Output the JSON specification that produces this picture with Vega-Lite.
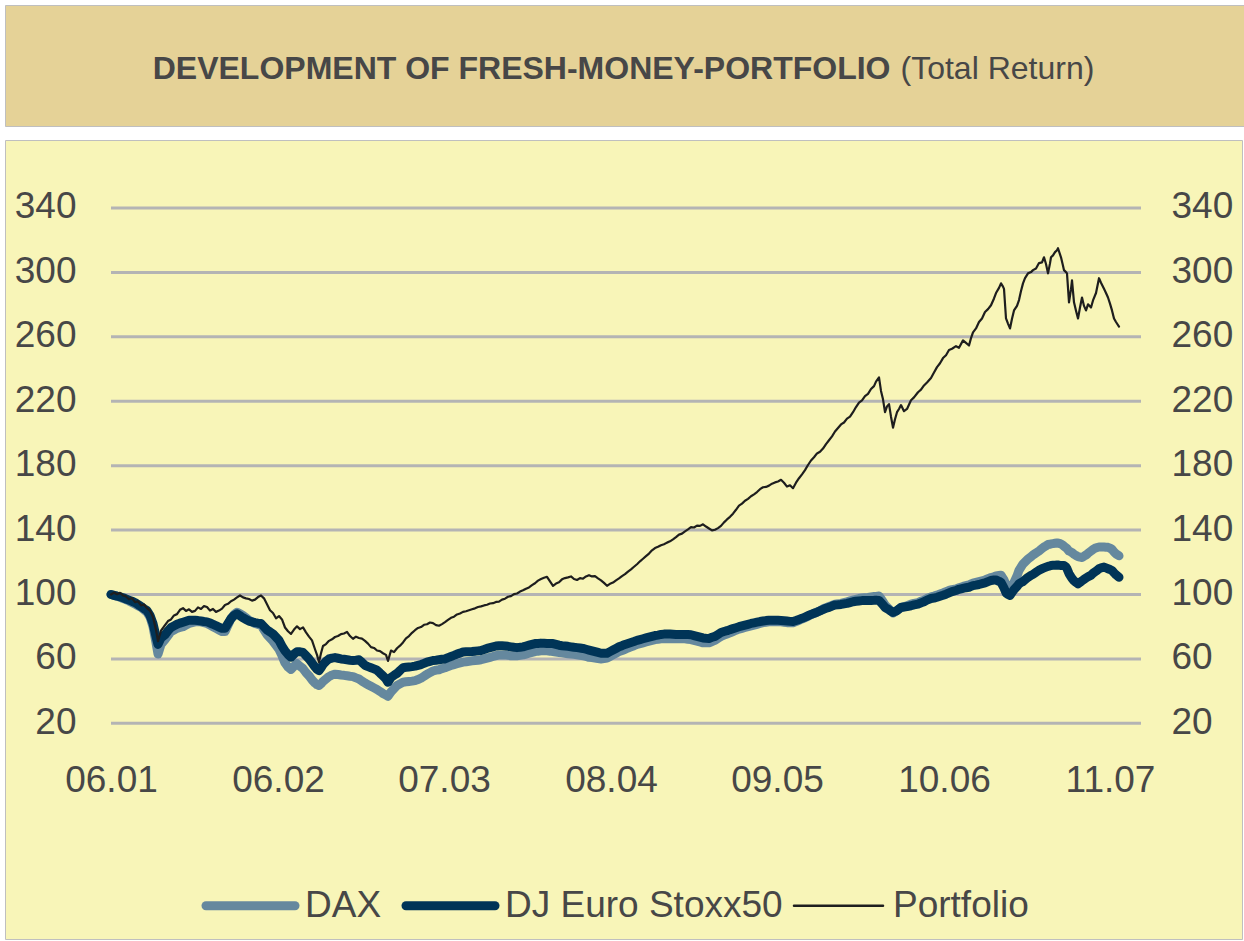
{
  "$schema": "https://vega.github.io/schema/vega-lite/v6.json",
  "background": "white",
  "padding": {"left": 4, "top": 4, "right": 0, "bottom": 0},
  "spacing": 12,
  "config": {"font": "Liberation Sans", "view": {"stroke": "#BFBFBF", "strokeWidth": 1}},
  "vconcat": [
    {
      "width": 1239,
      "height": 121,
      "view": {"fill": "#E5D297", "stroke": "#BFBFBF"},
      "data": {"values": [{"k": "t", "bold": "DEVELOPMENT OF FRESH-MONEY-PORTFOLIO", "normal": "(Total Return)"}]},
      "encoding": {
        "x": {"field": "k", "type": "nominal", "axis": null},
        "y": {"field": "k", "type": "nominal", "axis": null}
      },
      "layer": [
        {"mark": {"type": "text", "fontSize": 32, "fontWeight": "bold", "align": "right", "baseline": "middle", "dx": 266, "dy": 3, "fill": "#474747"},
         "encoding": {"text": {"field": "bold"}}},
        {"mark": {"type": "text", "fontSize": 32, "fontWeight": "normal", "align": "left", "baseline": "middle", "dx": 276, "dy": 3, "fill": "#474747"},
         "encoding": {"text": {"field": "normal"}}}
      ]
    },
    {
      "width": 1237,
      "height": 799,
      "view": {"fill": "#F8F5B8", "stroke": "#BFBFBF"},
      "resolve": {"scale": {"y": "independent"}},
      "layer": [
        {
          "data": {"values": [{"g": 20}, {"g": 60}, {"g": 100}, {"g": 140}, {"g": 180}, {"g": 220}, {"g": 260}, {"g": 300}, {"g": 340}]},
          "mark": {"type": "rule", "stroke": "#B4B4B4", "strokeWidth": 3},
          "encoding": {
            "x": {"datum": 0, "type": "quantitative", "scale": {"domain": [-106, 1131], "nice": false, "zero": false}},
            "x2": {"datum": 1030},
            "y": {"field": "g", "type": "quantitative",
                  "scale": {"domain": [-113.93, 382.22], "nice": false, "zero": false},
                  "axis": {"orient": "right", "values": [20, 60, 100, 140, 180, 220, 260, 300, 340], "offset": -71, "labelPadding": 0, "labelAlign": "left", "labelOffset": -1, "domain": false, "ticks": false, "grid": false, "title": null, "labelFontSize": 37, "labelColor": "#474747", "labelFont": "Liberation Sans"}}
          }
        },
        {
          "data": {"values": [
{"d":0,"DAX":100,"DJ Euro Stoxx50":100,"Portfolio":100},
{"d":3,"DAX":99.5,"DJ Euro Stoxx50":99.5,"Portfolio":101.2},
{"d":6,"DAX":99,"DJ Euro Stoxx50":99,"Portfolio":100.2},
{"d":9,"DAX":98.3,"DJ Euro Stoxx50":98.6,"Portfolio":101},
{"d":12,"DAX":97.5,"DJ Euro Stoxx50":98,"Portfolio":99.4},
{"d":15,"DAX":96.8,"DJ Euro Stoxx50":97.2,"Portfolio":98.8},
{"d":18,"DAX":96,"DJ Euro Stoxx50":96.5,"Portfolio":97},
{"d":21,"DAX":95,"DJ Euro Stoxx50":95.8,"Portfolio":97.8},
{"d":24,"DAX":94,"DJ Euro Stoxx50":95,"Portfolio":95.2},
{"d":27,"DAX":93,"DJ Euro Stoxx50":93.8,"Portfolio":95.8},
{"d":30,"DAX":92,"DJ Euro Stoxx50":92.5,"Portfolio":93.2},
{"d":33,"DAX":90.5,"DJ Euro Stoxx50":91.2,"Portfolio":93.8},
{"d":36,"DAX":89,"DJ Euro Stoxx50":90,"Portfolio":91.5},
{"d":39,"DAX":86,"DJ Euro Stoxx50":87,"Portfolio":90},
{"d":42,"DAX":80,"DJ Euro Stoxx50":82,"Portfolio":86},
{"d":45,"DAX":70,"DJ Euro Stoxx50":74,"Portfolio":78},
{"d":47,"DAX":63,"DJ Euro Stoxx50":69,"Portfolio":71},
{"d":50,"DAX":69,"DJ Euro Stoxx50":73,"Portfolio":77.5},
{"d":54,"DAX":72,"DJ Euro Stoxx50":75,"Portfolio":81},
{"d":57,"DAX":74.5,"DJ Euro Stoxx50":77.5,"Portfolio":83.5},
{"d":60,"DAX":77,"DJ Euro Stoxx50":79.5,"Portfolio":84.5},
{"d":63,"DAX":78,"DJ Euro Stoxx50":80.5,"Portfolio":87},
{"d":66,"DAX":79,"DJ Euro Stoxx50":81.5,"Portfolio":87.8},
{"d":69,"DAX":79.5,"DJ Euro Stoxx50":82.2,"Portfolio":90.5},
{"d":72,"DAX":80,"DJ Euro Stoxx50":82.8,"Portfolio":91.5},
{"d":75,"DAX":81,"DJ Euro Stoxx50":83.4,"Portfolio":89.8},
{"d":78,"DAX":82,"DJ Euro Stoxx50":84,"Portfolio":90.8},
{"d":81,"DAX":82.5,"DJ Euro Stoxx50":84,"Portfolio":89.2},
{"d":84,"DAX":83,"DJ Euro Stoxx50":84,"Portfolio":89.8},
{"d":87,"DAX":83,"DJ Euro Stoxx50":83.8,"Portfolio":92},
{"d":90,"DAX":83,"DJ Euro Stoxx50":83.5,"Portfolio":91},
{"d":93,"DAX":82.5,"DJ Euro Stoxx50":83.2,"Portfolio":92.8},
{"d":96,"DAX":82,"DJ Euro Stoxx50":83,"Portfolio":92.2},
{"d":99,"DAX":81,"DJ Euro Stoxx50":82.3,"Portfolio":90},
{"d":102,"DAX":80,"DJ Euro Stoxx50":81.5,"Portfolio":91},
{"d":105,"DAX":79,"DJ Euro Stoxx50":80.6,"Portfolio":89.2},
{"d":108,"DAX":78,"DJ Euro Stoxx50":79.8,"Portfolio":90},
{"d":111,"DAX":77,"DJ Euro Stoxx50":79,"Portfolio":91.2},
{"d":114,"DAX":77,"DJ Euro Stoxx50":79,"Portfolio":93.5},
{"d":117,"DAX":81,"DJ Euro Stoxx50":82,"Portfolio":94.2},
{"d":120,"DAX":85,"DJ Euro Stoxx50":85,"Portfolio":95.8},
{"d":123,"DAX":87.5,"DJ Euro Stoxx50":87,"Portfolio":96.8},
{"d":126,"DAX":89,"DJ Euro Stoxx50":88,"Portfolio":98.2},
{"d":129,"DAX":88,"DJ Euro Stoxx50":86.8,"Portfolio":99.4},
{"d":132,"DAX":87,"DJ Euro Stoxx50":85.5,"Portfolio":98.2},
{"d":135,"DAX":85.5,"DJ Euro Stoxx50":84.5,"Portfolio":97.6},
{"d":138,"DAX":84,"DJ Euro Stoxx50":83.5,"Portfolio":97.2},
{"d":141,"DAX":83,"DJ Euro Stoxx50":83,"Portfolio":96.2},
{"d":144,"DAX":82,"DJ Euro Stoxx50":82.5,"Portfolio":96.8},
{"d":147,"DAX":81.5,"DJ Euro Stoxx50":82.2,"Portfolio":98.4},
{"d":150,"DAX":81,"DJ Euro Stoxx50":82,"Portfolio":99.4},
{"d":153,"DAX":78,"DJ Euro Stoxx50":80,"Portfolio":97.6},
{"d":156,"DAX":75,"DJ Euro Stoxx50":78,"Portfolio":94},
{"d":159,"DAX":73,"DJ Euro Stoxx50":76.8,"Portfolio":90.2},
{"d":162,"DAX":71,"DJ Euro Stoxx50":75.5,"Portfolio":88.5},
{"d":165,"DAX":68.5,"DJ Euro Stoxx50":73.5,"Portfolio":85.2},
{"d":168,"DAX":66,"DJ Euro Stoxx50":71.5,"Portfolio":86.6},
{"d":171,"DAX":62,"DJ Euro Stoxx50":68,"Portfolio":84.5},
{"d":174,"DAX":57.5,"DJ Euro Stoxx50":65,"Portfolio":79.5},
{"d":177,"DAX":55,"DJ Euro Stoxx50":62.8,"Portfolio":77.2},
{"d":180,"DAX":53.5,"DJ Euro Stoxx50":61,"Portfolio":75.5},
{"d":183,"DAX":55.5,"DJ Euro Stoxx50":63,"Portfolio":78.2},
{"d":186,"DAX":57,"DJ Euro Stoxx50":64.5,"Portfolio":80.2},
{"d":189,"DAX":55.5,"DJ Euro Stoxx50":64.4,"Portfolio":78.5},
{"d":192,"DAX":54,"DJ Euro Stoxx50":64,"Portfolio":79.6},
{"d":195,"DAX":51.5,"DJ Euro Stoxx50":62,"Portfolio":76.5},
{"d":198,"DAX":49.5,"DJ Euro Stoxx50":60,"Portfolio":73.8},
{"d":201,"DAX":47,"DJ Euro Stoxx50":57.5,"Portfolio":71.5},
{"d":204,"DAX":45,"DJ Euro Stoxx50":55,"Portfolio":66},
{"d":206,"DAX":44,"DJ Euro Stoxx50":53.5,"Portfolio":62.5},
{"d":208,"DAX":43.5,"DJ Euro Stoxx50":52.8,"Portfolio":58},
{"d":210,"DAX":44.5,"DJ Euro Stoxx50":54.5,"Portfolio":63.5},
{"d":212,"DAX":46,"DJ Euro Stoxx50":56.5,"Portfolio":68},
{"d":215,"DAX":47.5,"DJ Euro Stoxx50":58.5,"Portfolio":69.2},
{"d":218,"DAX":49,"DJ Euro Stoxx50":60,"Portfolio":71.2},
{"d":221,"DAX":50,"DJ Euro Stoxx50":60.5,"Portfolio":72.2},
{"d":224,"DAX":50.5,"DJ Euro Stoxx50":60.8,"Portfolio":73.6},
{"d":227,"DAX":50.3,"DJ Euro Stoxx50":60.4,"Portfolio":74.2},
{"d":230,"DAX":50,"DJ Euro Stoxx50":60,"Portfolio":75.4},
{"d":233,"DAX":49.8,"DJ Euro Stoxx50":59.8,"Portfolio":75.8},
{"d":236,"DAX":49.5,"DJ Euro Stoxx50":59.5,"Portfolio":76.8},
{"d":239,"DAX":49.2,"DJ Euro Stoxx50":59.2,"Portfolio":74.2},
{"d":242,"DAX":49,"DJ Euro Stoxx50":59,"Portfolio":72.5},
{"d":245,"DAX":48.2,"DJ Euro Stoxx50":59.2,"Portfolio":73.8},
{"d":248,"DAX":47.5,"DJ Euro Stoxx50":59.5,"Portfolio":73},
{"d":251,"DAX":46.2,"DJ Euro Stoxx50":57.8,"Portfolio":72.6},
{"d":254,"DAX":45,"DJ Euro Stoxx50":56,"Portfolio":71.2},
{"d":257,"DAX":44,"DJ Euro Stoxx50":55.2,"Portfolio":69.5},
{"d":260,"DAX":43,"DJ Euro Stoxx50":54.5,"Portfolio":67.3},
{"d":263,"DAX":42,"DJ Euro Stoxx50":53.8,"Portfolio":66.8},
{"d":266,"DAX":41,"DJ Euro Stoxx50":53,"Portfolio":65.2},
{"d":269,"DAX":39.8,"DJ Euro Stoxx50":51.2,"Portfolio":64.8},
{"d":272,"DAX":38.5,"DJ Euro Stoxx50":49.5,"Portfolio":63.5},
{"d":275,"DAX":37.5,"DJ Euro Stoxx50":47.5,"Portfolio":62.5},
{"d":277,"DAX":36.8,"DJ Euro Stoxx50":45.5,"Portfolio":58.8},
{"d":280,"DAX":39.5,"DJ Euro Stoxx50":48.5,"Portfolio":65.2},
{"d":283,"DAX":41.5,"DJ Euro Stoxx50":49.8,"Portfolio":64.2},
{"d":286,"DAX":43.5,"DJ Euro Stoxx50":51,"Portfolio":66.6},
{"d":289,"DAX":44.5,"DJ Euro Stoxx50":52.8,"Portfolio":68.2},
{"d":292,"DAX":45.5,"DJ Euro Stoxx50":54.5,"Portfolio":70.2},
{"d":295,"DAX":45.8,"DJ Euro Stoxx50":54.8,"Portfolio":72.8},
{"d":298,"DAX":46,"DJ Euro Stoxx50":55,"Portfolio":74.2},
{"d":301,"DAX":46.2,"DJ Euro Stoxx50":55.2,"Portfolio":76.2},
{"d":304,"DAX":46.5,"DJ Euro Stoxx50":55.5,"Portfolio":77.8},
{"d":307,"DAX":47.2,"DJ Euro Stoxx50":56,"Portfolio":79.2},
{"d":310,"DAX":48,"DJ Euro Stoxx50":56.5,"Portfolio":79.8},
{"d":313,"DAX":49.2,"DJ Euro Stoxx50":57.2,"Portfolio":81.2},
{"d":316,"DAX":50.5,"DJ Euro Stoxx50":58,"Portfolio":81.5},
{"d":319,"DAX":51.5,"DJ Euro Stoxx50":58.5,"Portfolio":82.6},
{"d":322,"DAX":52.5,"DJ Euro Stoxx50":59,"Portfolio":82.2},
{"d":325,"DAX":53,"DJ Euro Stoxx50":59.2,"Portfolio":81},
{"d":328,"DAX":53.3,"DJ Euro Stoxx50":59.5,"Portfolio":80.6},
{"d":331,"DAX":54,"DJ Euro Stoxx50":59.8,"Portfolio":81.6},
{"d":334,"DAX":54.5,"DJ Euro Stoxx50":60,"Portfolio":82.8},
{"d":337,"DAX":55.2,"DJ Euro Stoxx50":60.8,"Portfolio":84.2},
{"d":340,"DAX":56,"DJ Euro Stoxx50":61.5,"Portfolio":85.5},
{"d":343,"DAX":56.5,"DJ Euro Stoxx50":62.2,"Portfolio":86.2},
{"d":346,"DAX":57,"DJ Euro Stoxx50":63,"Portfolio":87.6},
{"d":349,"DAX":57.5,"DJ Euro Stoxx50":63.6,"Portfolio":88.2},
{"d":352,"DAX":58,"DJ Euro Stoxx50":64.3,"Portfolio":89.2},
{"d":355,"DAX":58.2,"DJ Euro Stoxx50":64.4,"Portfolio":89.6},
{"d":358,"DAX":58.5,"DJ Euro Stoxx50":64.5,"Portfolio":90.2},
{"d":361,"DAX":58.8,"DJ Euro Stoxx50":64.6,"Portfolio":90.8},
{"d":364,"DAX":59,"DJ Euro Stoxx50":64.8,"Portfolio":91.4},
{"d":367,"DAX":59.2,"DJ Euro Stoxx50":65,"Portfolio":92.2},
{"d":370,"DAX":59.5,"DJ Euro Stoxx50":65.2,"Portfolio":92.6},
{"d":373,"DAX":60,"DJ Euro Stoxx50":65.8,"Portfolio":93.2},
{"d":376,"DAX":60.5,"DJ Euro Stoxx50":66.5,"Portfolio":93.6},
{"d":379,"DAX":61,"DJ Euro Stoxx50":67,"Portfolio":94.4},
{"d":382,"DAX":61.5,"DJ Euro Stoxx50":67.5,"Portfolio":94.6},
{"d":385,"DAX":62,"DJ Euro Stoxx50":68,"Portfolio":95.4},
{"d":388,"DAX":62.5,"DJ Euro Stoxx50":68.2,"Portfolio":95.6},
{"d":391,"DAX":62.5,"DJ Euro Stoxx50":68.1,"Portfolio":96.8},
{"d":394,"DAX":62.5,"DJ Euro Stoxx50":68,"Portfolio":97.4},
{"d":397,"DAX":62.2,"DJ Euro Stoxx50":67.8,"Portfolio":98.6},
{"d":400,"DAX":62,"DJ Euro Stoxx50":67.5,"Portfolio":99},
{"d":403,"DAX":62,"DJ Euro Stoxx50":67.2,"Portfolio":100.2},
{"d":406,"DAX":62,"DJ Euro Stoxx50":67,"Portfolio":100.6},
{"d":409,"DAX":62.2,"DJ Euro Stoxx50":67.2,"Portfolio":101.8},
{"d":412,"DAX":62.5,"DJ Euro Stoxx50":67.5,"Portfolio":102.6},
{"d":415,"DAX":63,"DJ Euro Stoxx50":68,"Portfolio":103.6},
{"d":418,"DAX":63.5,"DJ Euro Stoxx50":68.5,"Portfolio":104.4},
{"d":421,"DAX":64,"DJ Euro Stoxx50":69,"Portfolio":105.8},
{"d":424,"DAX":64.5,"DJ Euro Stoxx50":69.5,"Portfolio":107},
{"d":427,"DAX":64.8,"DJ Euro Stoxx50":69.6,"Portfolio":108.6},
{"d":430,"DAX":65,"DJ Euro Stoxx50":69.8,"Portfolio":109.6},
{"d":433,"DAX":65,"DJ Euro Stoxx50":69.7,"Portfolio":110.4},
{"d":436,"DAX":65,"DJ Euro Stoxx50":69.6,"Portfolio":111},
{"d":439,"DAX":64.8,"DJ Euro Stoxx50":69.5,"Portfolio":108.2},
{"d":442,"DAX":64.5,"DJ Euro Stoxx50":69.5,"Portfolio":105.4},
{"d":445,"DAX":64.2,"DJ Euro Stoxx50":69,"Portfolio":106.8},
{"d":448,"DAX":64,"DJ Euro Stoxx50":68.5,"Portfolio":107.6},
{"d":451,"DAX":63.8,"DJ Euro Stoxx50":68.2,"Portfolio":109.4},
{"d":454,"DAX":63.5,"DJ Euro Stoxx50":68,"Portfolio":110.2},
{"d":457,"DAX":63.2,"DJ Euro Stoxx50":67.8,"Portfolio":110.6},
{"d":460,"DAX":63,"DJ Euro Stoxx50":67.5,"Portfolio":111.2},
{"d":463,"DAX":62.8,"DJ Euro Stoxx50":67.2,"Portfolio":109.6},
{"d":466,"DAX":62.5,"DJ Euro Stoxx50":67,"Portfolio":109},
{"d":469,"DAX":62.2,"DJ Euro Stoxx50":66.8,"Portfolio":110.2},
{"d":472,"DAX":62,"DJ Euro Stoxx50":66.5,"Portfolio":109.8},
{"d":475,"DAX":61.5,"DJ Euro Stoxx50":66,"Portfolio":111.2},
{"d":478,"DAX":61,"DJ Euro Stoxx50":65.5,"Portfolio":112},
{"d":481,"DAX":60.8,"DJ Euro Stoxx50":65,"Portfolio":111.2},
{"d":484,"DAX":60.5,"DJ Euro Stoxx50":64.5,"Portfolio":111.4},
{"d":487,"DAX":60.2,"DJ Euro Stoxx50":64,"Portfolio":110},
{"d":490,"DAX":60,"DJ Euro Stoxx50":63.5,"Portfolio":108.8},
{"d":493,"DAX":60.2,"DJ Euro Stoxx50":63.5,"Portfolio":107.2},
{"d":496,"DAX":60.5,"DJ Euro Stoxx50":63.5,"Portfolio":105.4},
{"d":499,"DAX":61.5,"DJ Euro Stoxx50":64.5,"Portfolio":106.6},
{"d":502,"DAX":62.5,"DJ Euro Stoxx50":65.5,"Portfolio":107.4},
{"d":505,"DAX":63.5,"DJ Euro Stoxx50":66.5,"Portfolio":108.8},
{"d":508,"DAX":64.5,"DJ Euro Stoxx50":67.5,"Portfolio":110},
{"d":511,"DAX":65.2,"DJ Euro Stoxx50":68.2,"Portfolio":111.4},
{"d":514,"DAX":66,"DJ Euro Stoxx50":69,"Portfolio":112.6},
{"d":517,"DAX":66.8,"DJ Euro Stoxx50":69.6,"Portfolio":114.2},
{"d":520,"DAX":67.5,"DJ Euro Stoxx50":70.2,"Portfolio":115.6},
{"d":523,"DAX":68.2,"DJ Euro Stoxx50":70.8,"Portfolio":117.2},
{"d":526,"DAX":69,"DJ Euro Stoxx50":71.5,"Portfolio":118.8},
{"d":529,"DAX":69.5,"DJ Euro Stoxx50":72,"Portfolio":120.6},
{"d":532,"DAX":70,"DJ Euro Stoxx50":72.5,"Portfolio":122.2},
{"d":535,"DAX":70.5,"DJ Euro Stoxx50":73,"Portfolio":123.8},
{"d":538,"DAX":71,"DJ Euro Stoxx50":73.5,"Portfolio":125.4},
{"d":541,"DAX":71.5,"DJ Euro Stoxx50":74,"Portfolio":127.4},
{"d":544,"DAX":72,"DJ Euro Stoxx50":74.5,"Portfolio":128.8},
{"d":547,"DAX":72.2,"DJ Euro Stoxx50":74.8,"Portfolio":129.6},
{"d":550,"DAX":72.5,"DJ Euro Stoxx50":75.2,"Portfolio":130.6},
{"d":553,"DAX":72.5,"DJ Euro Stoxx50":75.4,"Portfolio":131.2},
{"d":556,"DAX":72.5,"DJ Euro Stoxx50":75.5,"Portfolio":132.2},
{"d":559,"DAX":72.5,"DJ Euro Stoxx50":75.4,"Portfolio":133},
{"d":562,"DAX":72.5,"DJ Euro Stoxx50":75.3,"Portfolio":134.2},
{"d":565,"DAX":72.5,"DJ Euro Stoxx50":75.2,"Portfolio":135.6},
{"d":568,"DAX":72.5,"DJ Euro Stoxx50":75.2,"Portfolio":137.2},
{"d":571,"DAX":72.5,"DJ Euro Stoxx50":75.2,"Portfolio":137.8},
{"d":574,"DAX":72.5,"DJ Euro Stoxx50":75.2,"Portfolio":139.2},
{"d":577,"DAX":72.2,"DJ Euro Stoxx50":75.1,"Portfolio":140.4},
{"d":580,"DAX":72,"DJ Euro Stoxx50":75,"Portfolio":141.8},
{"d":583,"DAX":71.5,"DJ Euro Stoxx50":74.5,"Portfolio":141.6},
{"d":586,"DAX":71,"DJ Euro Stoxx50":74,"Portfolio":142.8},
{"d":589,"DAX":70.5,"DJ Euro Stoxx50":73.5,"Portfolio":142.6},
{"d":592,"DAX":70,"DJ Euro Stoxx50":73,"Portfolio":143.6},
{"d":595,"DAX":70,"DJ Euro Stoxx50":72.8,"Portfolio":142.2},
{"d":598,"DAX":70,"DJ Euro Stoxx50":72.7,"Portfolio":141},
{"d":601,"DAX":70.8,"DJ Euro Stoxx50":73.4,"Portfolio":139.8},
{"d":604,"DAX":71.5,"DJ Euro Stoxx50":74,"Portfolio":140.2},
{"d":607,"DAX":72.8,"DJ Euro Stoxx50":75.2,"Portfolio":141.2},
{"d":610,"DAX":74,"DJ Euro Stoxx50":76.4,"Portfolio":142.6},
{"d":613,"DAX":74.8,"DJ Euro Stoxx50":77,"Portfolio":144.8},
{"d":616,"DAX":75.5,"DJ Euro Stoxx50":77.5,"Portfolio":146.6},
{"d":619,"DAX":76.2,"DJ Euro Stoxx50":78.2,"Portfolio":148.2},
{"d":622,"DAX":77,"DJ Euro Stoxx50":78.8,"Portfolio":150.2},
{"d":625,"DAX":77.8,"DJ Euro Stoxx50":79.4,"Portfolio":152.6},
{"d":628,"DAX":78.5,"DJ Euro Stoxx50":80,"Portfolio":155.2},
{"d":631,"DAX":79,"DJ Euro Stoxx50":80.5,"Portfolio":156.4},
{"d":634,"DAX":79.5,"DJ Euro Stoxx50":81,"Portfolio":158.2},
{"d":637,"DAX":80,"DJ Euro Stoxx50":81.5,"Portfolio":159.4},
{"d":640,"DAX":80.5,"DJ Euro Stoxx50":82,"Portfolio":161},
{"d":643,"DAX":81,"DJ Euro Stoxx50":82.4,"Portfolio":162.2},
{"d":646,"DAX":81.5,"DJ Euro Stoxx50":82.8,"Portfolio":163.6},
{"d":649,"DAX":82,"DJ Euro Stoxx50":83.2,"Portfolio":165.4},
{"d":652,"DAX":82.5,"DJ Euro Stoxx50":83.5,"Portfolio":166.6},
{"d":655,"DAX":82.8,"DJ Euro Stoxx50":83.8,"Portfolio":166.8},
{"d":658,"DAX":83,"DJ Euro Stoxx50":84,"Portfolio":167.6},
{"d":661,"DAX":83,"DJ Euro Stoxx50":84,"Portfolio":168.8},
{"d":664,"DAX":83,"DJ Euro Stoxx50":84,"Portfolio":169.6},
{"d":667,"DAX":83,"DJ Euro Stoxx50":84,"Portfolio":170.2},
{"d":670,"DAX":83,"DJ Euro Stoxx50":83.9,"Portfolio":171.2},
{"d":673,"DAX":82.8,"DJ Euro Stoxx50":83.7,"Portfolio":169.4},
{"d":676,"DAX":82.5,"DJ Euro Stoxx50":83.5,"Portfolio":167},
{"d":679,"DAX":82.5,"DJ Euro Stoxx50":83.3,"Portfolio":167.8},
{"d":682,"DAX":82.5,"DJ Euro Stoxx50":83.2,"Portfolio":166},
{"d":685,"DAX":83.2,"DJ Euro Stoxx50":83.8,"Portfolio":169.4},
{"d":688,"DAX":84,"DJ Euro Stoxx50":84.5,"Portfolio":172.2},
{"d":691,"DAX":84.8,"DJ Euro Stoxx50":85.2,"Portfolio":174.6},
{"d":694,"DAX":85.5,"DJ Euro Stoxx50":86,"Portfolio":177.2},
{"d":697,"DAX":86.5,"DJ Euro Stoxx50":86.8,"Portfolio":180.4},
{"d":700,"DAX":87.5,"DJ Euro Stoxx50":87.6,"Portfolio":183.2},
{"d":703,"DAX":88.2,"DJ Euro Stoxx50":88.3,"Portfolio":185.2},
{"d":706,"DAX":89,"DJ Euro Stoxx50":89,"Portfolio":187.6},
{"d":709,"DAX":90,"DJ Euro Stoxx50":89.8,"Portfolio":188.6},
{"d":712,"DAX":91,"DJ Euro Stoxx50":90.7,"Portfolio":190.6},
{"d":715,"DAX":91.8,"DJ Euro Stoxx50":91.4,"Portfolio":193.4},
{"d":718,"DAX":92.5,"DJ Euro Stoxx50":92,"Portfolio":195.8},
{"d":721,"DAX":93.2,"DJ Euro Stoxx50":92.8,"Portfolio":198.2},
{"d":724,"DAX":94,"DJ Euro Stoxx50":93.5,"Portfolio":201.2},
{"d":727,"DAX":94.2,"DJ Euro Stoxx50":93.6,"Portfolio":203.4},
{"d":730,"DAX":94.5,"DJ Euro Stoxx50":93.8,"Portfolio":205.6},
{"d":733,"DAX":95,"DJ Euro Stoxx50":94.2,"Portfolio":206.8},
{"d":736,"DAX":95.5,"DJ Euro Stoxx50":94.5,"Portfolio":209.2},
{"d":739,"DAX":96,"DJ Euro Stoxx50":95,"Portfolio":210.4},
{"d":742,"DAX":96.5,"DJ Euro Stoxx50":95.5,"Portfolio":213.2},
{"d":745,"DAX":97,"DJ Euro Stoxx50":95.8,"Portfolio":216.4},
{"d":748,"DAX":97.5,"DJ Euro Stoxx50":96,"Portfolio":219.2},
{"d":751,"DAX":97.8,"DJ Euro Stoxx50":96.2,"Portfolio":220.6},
{"d":754,"DAX":98,"DJ Euro Stoxx50":96.3,"Portfolio":223.2},
{"d":757,"DAX":98.2,"DJ Euro Stoxx50":96.3,"Portfolio":224.6},
{"d":760,"DAX":98.5,"DJ Euro Stoxx50":96.3,"Portfolio":227.6},
{"d":763,"DAX":98.7,"DJ Euro Stoxx50":96.4,"Portfolio":229.4},
{"d":765,"DAX":98.8,"DJ Euro Stoxx50":96.5,"Portfolio":232.2},
{"d":768,"DAX":99,"DJ Euro Stoxx50":96.3,"Portfolio":234.8},
{"d":770,"DAX":97.5,"DJ Euro Stoxx50":95,"Portfolio":226.4},
{"d":772,"DAX":95.5,"DJ Euro Stoxx50":93.5,"Portfolio":221.2},
{"d":774,"DAX":93.5,"DJ Euro Stoxx50":92,"Portfolio":213.2},
{"d":776,"DAX":92.2,"DJ Euro Stoxx50":91.2,"Portfolio":216.8},
{"d":778,"DAX":91,"DJ Euro Stoxx50":90.5,"Portfolio":218.2},
{"d":780,"DAX":89.8,"DJ Euro Stoxx50":89.6,"Portfolio":210.4},
{"d":782,"DAX":88.5,"DJ Euro Stoxx50":88.8,"Portfolio":203.6},
{"d":784,"DAX":89.2,"DJ Euro Stoxx50":89.4,"Portfolio":208.8},
{"d":786,"DAX":90,"DJ Euro Stoxx50":90,"Portfolio":213.2},
{"d":788,"DAX":91,"DJ Euro Stoxx50":91,"Portfolio":215.2},
{"d":790,"DAX":92,"DJ Euro Stoxx50":91.9,"Portfolio":217.6},
{"d":793,"DAX":92.5,"DJ Euro Stoxx50":92.2,"Portfolio":213.8},
{"d":796,"DAX":93,"DJ Euro Stoxx50":92.5,"Portfolio":215.2},
{"d":800,"DAX":94,"DJ Euro Stoxx50":93,"Portfolio":220.6},
{"d":803,"DAX":94.5,"DJ Euro Stoxx50":93.5,"Portfolio":222.4},
{"d":807,"DAX":95,"DJ Euro Stoxx50":94,"Portfolio":225.6},
{"d":810,"DAX":95.8,"DJ Euro Stoxx50":94.8,"Portfolio":227.2},
{"d":813,"DAX":96.5,"DJ Euro Stoxx50":95.5,"Portfolio":229.8},
{"d":816,"DAX":97.5,"DJ Euro Stoxx50":96.5,"Portfolio":231.6},
{"d":820,"DAX":98.5,"DJ Euro Stoxx50":97.5,"Portfolio":234.4},
{"d":823,"DAX":99,"DJ Euro Stoxx50":97.8,"Portfolio":237.8},
{"d":826,"DAX":99.6,"DJ Euro Stoxx50":98.3,"Portfolio":241.2},
{"d":829,"DAX":100.3,"DJ Euro Stoxx50":98.9,"Portfolio":243.6},
{"d":832,"DAX":101,"DJ Euro Stoxx50":99.5,"Portfolio":246.8},
{"d":835,"DAX":101.8,"DJ Euro Stoxx50":100.2,"Portfolio":248.6},
{"d":838,"DAX":102.5,"DJ Euro Stoxx50":101,"Portfolio":251.8},
{"d":841,"DAX":103,"DJ Euro Stoxx50":101.8,"Portfolio":252.6},
{"d":845,"DAX":103.5,"DJ Euro Stoxx50":102.5,"Portfolio":254.2},
{"d":848,"DAX":104.2,"DJ Euro Stoxx50":103.2,"Portfolio":253.2},
{"d":852,"DAX":105,"DJ Euro Stoxx50":103.8,"Portfolio":257.8},
{"d":855,"DAX":105.5,"DJ Euro Stoxx50":104.2,"Portfolio":256.2},
{"d":858,"DAX":106,"DJ Euro Stoxx50":104.5,"Portfolio":254.6},
{"d":860,"DAX":106.5,"DJ Euro Stoxx50":105,"Portfolio":259.2},
{"d":862,"DAX":107,"DJ Euro Stoxx50":105.5,"Portfolio":262.8},
{"d":865,"DAX":107.5,"DJ Euro Stoxx50":105.8,"Portfolio":265.2},
{"d":868,"DAX":108,"DJ Euro Stoxx50":106.2,"Portfolio":269.2},
{"d":871,"DAX":108.5,"DJ Euro Stoxx50":106.7,"Portfolio":271.4},
{"d":874,"DAX":109,"DJ Euro Stoxx50":107.2,"Portfolio":275.4},
{"d":877,"DAX":109.8,"DJ Euro Stoxx50":108,"Portfolio":277.2},
{"d":880,"DAX":110.5,"DJ Euro Stoxx50":108.7,"Portfolio":279.6},
{"d":883,"DAX":111,"DJ Euro Stoxx50":109,"Portfolio":283.8},
{"d":885,"DAX":111.5,"DJ Euro Stoxx50":109,"Portfolio":287.2},
{"d":888,"DAX":111.8,"DJ Euro Stoxx50":108.2,"Portfolio":290.4},
{"d":890,"DAX":112,"DJ Euro Stoxx50":107.5,"Portfolio":293.2},
{"d":892,"DAX":110,"DJ Euro Stoxx50":105.2,"Portfolio":291.2},
{"d":893,"DAX":109,"DJ Euro Stoxx50":104,"Portfolio":289.8},
{"d":895,"DAX":106,"DJ Euro Stoxx50":101,"Portfolio":271.4},
{"d":897,"DAX":105,"DJ Euro Stoxx50":100,"Portfolio":268.2},
{"d":899,"DAX":104,"DJ Euro Stoxx50":99.4,"Portfolio":265.2},
{"d":901,"DAX":105.5,"DJ Euro Stoxx50":101.2,"Portfolio":271.2},
{"d":903,"DAX":107.5,"DJ Euro Stoxx50":103,"Portfolio":276.4},
{"d":906,"DAX":111.5,"DJ Euro Stoxx50":105,"Portfolio":279.2},
{"d":908,"DAX":115,"DJ Euro Stoxx50":106.6,"Portfolio":282.8},
{"d":910,"DAX":117,"DJ Euro Stoxx50":107.4,"Portfolio":288.4},
{"d":912,"DAX":119,"DJ Euro Stoxx50":108,"Portfolio":293.2},
{"d":914,"DAX":120.2,"DJ Euro Stoxx50":109.2,"Portfolio":296.4},
{"d":917,"DAX":122,"DJ Euro Stoxx50":110.7,"Portfolio":299.4},
{"d":920,"DAX":123.5,"DJ Euro Stoxx50":111.8,"Portfolio":300.2},
{"d":922,"DAX":124.5,"DJ Euro Stoxx50":112.5,"Portfolio":301.4},
{"d":925,"DAX":125.8,"DJ Euro Stoxx50":113.8,"Portfolio":302.4},
{"d":928,"DAX":127,"DJ Euro Stoxx50":115,"Portfolio":305.8},
{"d":931,"DAX":128.5,"DJ Euro Stoxx50":116,"Portfolio":306.2},
{"d":933,"DAX":129.5,"DJ Euro Stoxx50":116.5,"Portfolio":309.4},
{"d":935,"DAX":130.2,"DJ Euro Stoxx50":117,"Portfolio":305.2},
{"d":937,"DAX":131,"DJ Euro Stoxx50":117.5,"Portfolio":299.4},
{"d":939,"DAX":131.2,"DJ Euro Stoxx50":117.8,"Portfolio":305.6},
{"d":940,"DAX":131.4,"DJ Euro Stoxx50":118,"Portfolio":309.4},
{"d":942,"DAX":131.6,"DJ Euro Stoxx50":118.1,"Portfolio":310.6},
{"d":944,"DAX":131.8,"DJ Euro Stoxx50":118.2,"Portfolio":312.6},
{"d":946,"DAX":132,"DJ Euro Stoxx50":118.3,"Portfolio":313.8},
{"d":947,"DAX":132,"DJ Euro Stoxx50":118.3,"Portfolio":315},
{"d":949,"DAX":131.6,"DJ Euro Stoxx50":118.1,"Portfolio":311.2},
{"d":950,"DAX":131.4,"DJ Euro Stoxx50":118,"Portfolio":309.4},
{"d":952,"DAX":130.6,"DJ Euro Stoxx50":118,"Portfolio":304.2},
{"d":953,"DAX":130,"DJ Euro Stoxx50":118,"Portfolio":301.4},
{"d":955,"DAX":129,"DJ Euro Stoxx50":117,"Portfolio":300.2},
{"d":956,"DAX":128.5,"DJ Euro Stoxx50":116,"Portfolio":299.4},
{"d":958,"DAX":127,"DJ Euro Stoxx50":113,"Portfolio":281.4},
{"d":960,"DAX":126.4,"DJ Euro Stoxx50":111,"Portfolio":289.6},
{"d":961,"DAX":126,"DJ Euro Stoxx50":110,"Portfolio":295},
{"d":963,"DAX":125,"DJ Euro Stoxx50":108.5,"Portfolio":281.4},
{"d":965,"DAX":124.2,"DJ Euro Stoxx50":107.5,"Portfolio":276.2},
{"d":967,"DAX":123.5,"DJ Euro Stoxx50":106.6,"Portfolio":271.4},
{"d":969,"DAX":123.2,"DJ Euro Stoxx50":107.5,"Portfolio":278.2},
{"d":971,"DAX":123,"DJ Euro Stoxx50":108.5,"Portfolio":284.4},
{"d":973,"DAX":123.8,"DJ Euro Stoxx50":109.4,"Portfolio":279.2},
{"d":975,"DAX":124.5,"DJ Euro Stoxx50":110.2,"Portfolio":276.4},
{"d":977,"DAX":125.6,"DJ Euro Stoxx50":111,"Portfolio":280.2},
{"d":980,"DAX":127,"DJ Euro Stoxx50":112,"Portfolio":278.2},
{"d":982,"DAX":128,"DJ Euro Stoxx50":113.2,"Portfolio":282.6},
{"d":985,"DAX":129,"DJ Euro Stoxx50":114.5,"Portfolio":287.2},
{"d":988,"DAX":129.5,"DJ Euro Stoxx50":116,"Portfolio":296.4},
{"d":990,"DAX":129.5,"DJ Euro Stoxx50":116.5,"Portfolio":293.6},
{"d":993,"DAX":129.5,"DJ Euro Stoxx50":117,"Portfolio":289.8},
{"d":995,"DAX":129.4,"DJ Euro Stoxx50":116.5,"Portfolio":287.2},
{"d":997,"DAX":129.3,"DJ Euro Stoxx50":116,"Portfolio":284.4},
{"d":999,"DAX":128.8,"DJ Euro Stoxx50":115.5,"Portfolio":280.6},
{"d":1001,"DAX":128,"DJ Euro Stoxx50":114.9,"Portfolio":276.4},
{"d":1003,"DAX":126.5,"DJ Euro Stoxx50":113.5,"Portfolio":271.4},
{"d":1005,"DAX":125.2,"DJ Euro Stoxx50":112.2,"Portfolio":269.2},
{"d":1008,"DAX":124,"DJ Euro Stoxx50":110.7,"Portfolio":266.4}
          ]},
          "transform": [{"fold": ["DAX", "DJ Euro Stoxx50", "Portfolio"], "as": ["series", "value"]}],
          "mark": {"type": "line", "strokeCap": "round", "strokeJoin": "round"},
          "encoding": {
            "x": {"field": "d", "type": "quantitative",
                  "scale": {"domain": [-106, 1131], "nice": false, "zero": false},
                  "axis": {"orient": "bottom", "values": [0, 167, 333, 500, 666, 833, 999], "labelExpr": "['06.01','06.02','07.03','08.04','09.05','10.06','11.07'][round(datum.value/166.5)]", "offset": -177, "labelPadding": 0, "domain": false, "ticks": false, "grid": false, "title": null, "labelFontSize": 37, "labelColor": "#474747", "labelFont": "Liberation Sans"}},
            "y": {"field": "value", "type": "quantitative",
                  "scale": {"domain": [-113.93, 382.22], "nice": false, "zero": false},
                  "axis": {"orient": "left", "values": [20, 60, 100, 140, 180, 220, 260, 300, 340], "offset": -71, "labelPadding": 0, "labelOffset": -1, "domain": false, "ticks": false, "grid": false, "title": null, "labelFontSize": 37, "labelColor": "#474747", "labelFont": "Liberation Sans"}},
            "color": {"field": "series", "type": "nominal",
                      "scale": {"domain": ["DAX", "DJ Euro Stoxx50", "Portfolio"], "range": ["#65889E", "#003457", "#1E1E1E"]},
                      "legend": {"orient": "none", "legendX": 227, "legendY": 882, "direction": "horizontal", "title": null, "padding": 0, "labelFontSize": 37, "labelColor": "#474747", "labelFont": "Liberation Sans", "labelLimit": 500, "symbolType": "stroke", "symbolSize": 7921, "symbolStrokeWidth": 9, "labelOffset": 36, "columnPadding": 6,
                                 "encode": {"symbols": {"update": {"strokeCap": {"value": "round"}, "strokeWidth": {"signal": "datum.value === 'Portfolio' ? 2.5 : 9"}}}}}},
            "strokeWidth": {"condition": {"test": "datum.series === 'Portfolio'", "value": 2.2}, "value": 9}
          }
        }
      ]
    }
  ]
}
